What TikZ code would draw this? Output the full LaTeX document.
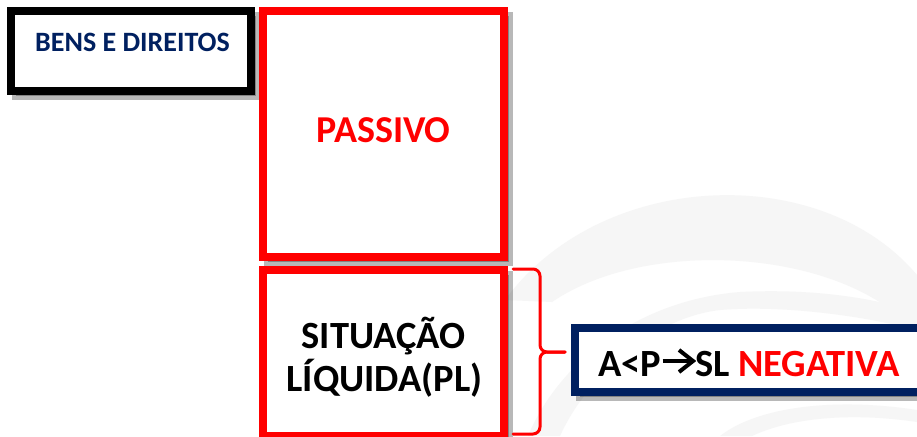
\documentclass[tikz,border=0pt]{standalone}
\usepackage{fontspec}
\setmainfont{Carlito}
\usetikzlibrary{shadows,calc}
\definecolor{navy}{RGB}{0,32,96}
\definecolor{swirl}{RGB}{246,246,246}
\begin{document}
\begin{tikzpicture}[x=1pt,y=-1pt,
  box/.style={draw, line width=8pt, fill=white, inner sep=0pt, outer sep=0pt,
    anchor=north west, rectangle},
  shad/.style={drop shadow={shadow xshift=5pt, shadow yshift=-5pt, opacity=0.28,
    fill=black, draw=black, line width=8pt}},
  lbl/.style={font=\bfseries\fontsize{#1}{#1}\selectfont, inner sep=0pt, outer sep=0pt},
  brace/.style={draw=red, line width=3pt, rounded corners=7pt, line cap=round}]
\useasboundingbox[fill=white] (0,0) rectangle (917,436);
% faint background swirl
\fill[swirl] (505,300) .. controls (600,170) and (820,160) .. (917,275)
  -- (917,335) .. controls (850,250) and (650,235) .. (552,302) -- cycle;
\fill[swirl] (528,436) .. controls (560,360) and (640,300) .. (740,292)
  .. controls (820,288) and (880,300) .. (917,312) -- (917,330)
  .. controls (860,315) and (780,305) .. (720,310)
  .. controls (650,318) and (585,380) .. (560,436) -- cycle;
\fill[swirl] (720,436) .. controls (760,405) and (840,398) .. (917,410)
  -- (917,422) .. controls (850,412) and (790,418) .. (752,436) -- cycle;
% boxes
\node[box, shad, draw=black, minimum width=240pt, minimum height=80pt] (bens) at (11,11) {};
\node[box, shad, draw=red, minimum width=241pt, minimum height=245pt] (pass) at (263,11.5) {};
\node[box, shad, draw=red, minimum width=241pt, minimum height=166.5pt] (sl) at (263,269.5) {};
\node[box, shad, draw=navy, minimum width=355pt, minimum height=64pt] (res) at (575,327.5) {};
% texts
\node[lbl=28, text=navy, anchor=base] (tbens) at (132.5,52) {BENS E DIREITOS};
\node[lbl=38, text=red, anchor=base] (tpass) at (383.5,142) {PASSIVO};
\node[lbl=38.5, anchor=base] (tsl1) at (383.5,348) {SITUAÇÃO};
\node[lbl=38.5, anchor=base] (tsl2) at (384.5,391) {LÍQUIDA(PL)};
\node[lbl=38.5, anchor=base west] (t1) at (598,376) {A<P};
\coordinate (as) at ($(t1.base east)+(1.5,-15)$);
\coordinate (ae) at ($(t1.base east)+(32,-15)$);
\draw[line width=4pt, line cap=butt] (as) -- (ae);
\draw[line width=4pt, line join=miter] ($(ae)+(-14,-11)$) -- (ae) -- ($(ae)+(-14,11)$);
\node[lbl=38.5, anchor=base west] (t2) at ($(t1.base east)+(34,0)$) {SL \textcolor{red}{NEGATIVA}};
% brace
\coordinate (b1) at (513,269);
\coordinate (b2) at (513,434);
\coordinate (bt) at (565,352);
\draw[brace] (b1) -| (540,352) -- (bt);
\draw[brace] (bt) -- (540,352) |- (b2);
\end{tikzpicture}
\end{document}
